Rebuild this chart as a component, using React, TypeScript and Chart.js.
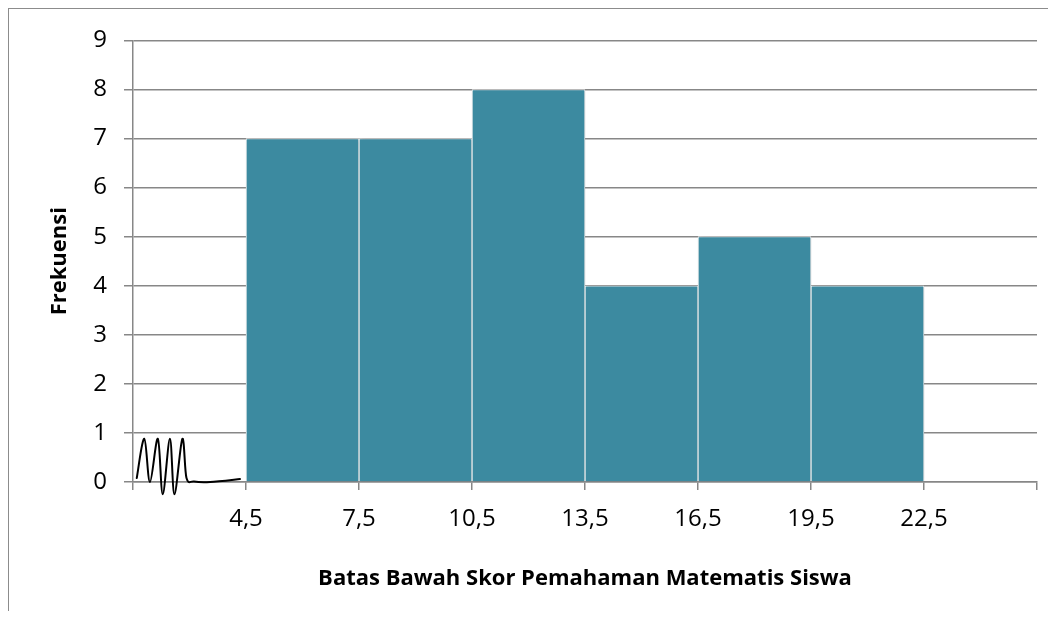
import React, { useEffect, useRef } from 'react';
import { Chart, registerables } from 'chart.js';

Chart.register(...registerables);

// ---- Data ----
const classEdges = [4.5, 7.5, 10.5, 13.5, 16.5, 19.5, 22.5];
const tickLabels = ['4,5', '7,5', '10,5', '13,5', '16,5', '19,5', '22,5'];
const frequencies = [7, 7, 8, 4, 5, 4];
const yMin = 0;
const yMax = 9;
const xTitle = 'Batas Bawah Skor Pemahaman Matematis Siswa';
const yTitle = 'Frekuensi';

// Axis-break squiggle (decoration), in axis value units
const breakSymbol: [number, number][] = [
  [1.6, 0.08],
  [1.8, 0.88],
  [1.95, 0.0],
  [2.16, 0.88],
  [2.29, -0.25],
  [2.48, 0.88],
  [2.6, -0.25],
  [2.81, 0.88],
  [2.92, 0.08],
  [3.12, 0.01],
  [3.55, 0.0],
  [4.34, 0.06],
];

const GRID = '#878787';
const BAR = '#3c8aa0';
const FONT = "'Open Sans', 'Noto Sans', sans-serif";

const breakPlugin = {
  id: 'axisBreak',
  afterDraw(chart: any) {
    const { ctx, scales } = chart;
    const x = scales.x;
    const y = scales.y;
    const p = breakSymbol.map(([vx, vy]) => [x.getPixelForValue(vx), y.getPixelForValue(vy)]);
    ctx.save();
    ctx.beginPath();
    ctx.strokeStyle = '#000';
    ctx.lineWidth = 2;
    ctx.lineJoin = 'round';
    ctx.lineCap = 'round';
    ctx.moveTo(p[0][0], p[0][1]);
    for (let i = 0; i < p.length - 1; i++) {
      const p0 = p[Math.max(0, i - 1)];
      const p1 = p[i];
      const p2 = p[i + 1];
      const p3 = p[Math.min(p.length - 1, i + 2)];
      const c1x = p1[0] + (p2[0] - p0[0]) / 6;
      const c1y = p1[1] + (p2[1] - p0[1]) / 6;
      const c2x = p2[0] - (p3[0] - p1[0]) / 6;
      const c2y = p2[1] - (p3[1] - p1[1]) / 6;
      ctx.bezierCurveTo(c1x, c1y, c2x, c2y, p2[0], p2[1]);
    }
    ctx.stroke();
    ctx.restore();
  },
};

const shadowPlugin = {
  id: 'barShadow',
  beforeDatasetsDraw(chart: any) {
    const ctx = chart.ctx;
    ctx.save();
    ctx.shadowColor = 'rgba(0,0,0,0.22)';
    ctx.shadowBlur = 4;
    ctx.shadowOffsetX = 1;
    ctx.shadowOffsetY = 0;
  },
  afterDatasetsDraw(chart: any) {
    chart.ctx.restore();
  },
};

export default function App() {
  const canvasRef = useRef<HTMLCanvasElement | null>(null);

  useEffect(() => {
    document.documentElement.style.overflow = 'hidden';
    const canvas = canvasRef.current;
    if (!canvas) return;
    const width = classEdges[1] - classEdges[0];
    const xMin = classEdges[0] - width;
    const xMax = classEdges[classEdges.length - 1] + width;
    const points = frequencies.map((f, i) => ({
      x: (classEdges[i] + classEdges[i + 1]) / 2,
      y: f,
    }));

    const chart = new Chart(canvas, {
      type: 'bar',
      data: {
        datasets: [
          {
            label: yTitle,
            data: points as any,
            backgroundColor: BAR,
            borderColor: '#ffffff',
            borderWidth: 1,
            borderSkipped: 'bottom',
            barPercentage: 1,
            categoryPercentage: 1,
          },
        ],
      },
      options: {
        animation: false,
        responsive: false,
        devicePixelRatio: 1,
        layout: { padding: { top: 28, right: 19, left: 0, bottom: 0 } },
        plugins: {
          legend: { display: false },
          tooltip: { enabled: false },
        },
        scales: {
          x: {
            type: 'linear',
            min: xMin,
            max: xMax,
            offset: false,
            afterBuildTicks: (scale: any) => {
              scale.ticks = [xMin, ...classEdges, xMax].map((v) => ({ value: v }));
            },
            afterFit: (scale: any) => {
              scale.height = 129;
            },
            grid: {
              offset: false,
              drawOnChartArea: false,
              drawTicks: true,
              tickLength: 8,
              color: GRID,
              lineWidth: 1.5,
            },
            border: { display: true, color: GRID, width: 1.5 },
            ticks: {
              autoSkip: false,
              maxRotation: 0,
              padding: 15,
              color: '#000',
              font: { family: FONT, size: 24 },
              callback: (value: any) => {
                const idx = classEdges.indexOf(Number(value));
                return idx >= 0 ? tickLabels[idx] : '';
              },
            },
            title: {
              display: true,
              text: xTitle,
              color: '#000',
              font: { family: FONT, size: 22, weight: 'bold' },
              padding: { top: 0, bottom: 19 },
            },
          },
          y: {
            type: 'linear',
            min: yMin,
            max: yMax,
            afterFit: (scale: any) => {
              scale.width = 124;
            },
            grid: {
              color: GRID,
              lineWidth: 1.5,
              drawTicks: true,
              tickLength: 9,
            },
            border: { display: true, color: GRID, width: 1.5 },
            ticks: {
              stepSize: 1,
              padding: 17,
              color: '#000',
              font: { family: FONT, size: 24 },
            },
            title: {
              display: true,
              text: yTitle,
              color: '#000',
              font: { family: FONT, size: 22, weight: 'bold' },
              padding: { top: 38, bottom: 0 },
            },
          },
        },
      },
      plugins: [shadowPlugin, breakPlugin],
    } as any);

    return () => chart.destroy();
  }, []);

  return (
    <div
      style={{
        width: 1047,
        height: 602,
        borderTop: '1px solid #8c8c8c',
        borderLeft: '1px solid #8c8c8c',
      }}
    >
      <canvas ref={canvasRef} width={1047} height={602} style={{ display: 'block' }} />
    </div>
  );
}
